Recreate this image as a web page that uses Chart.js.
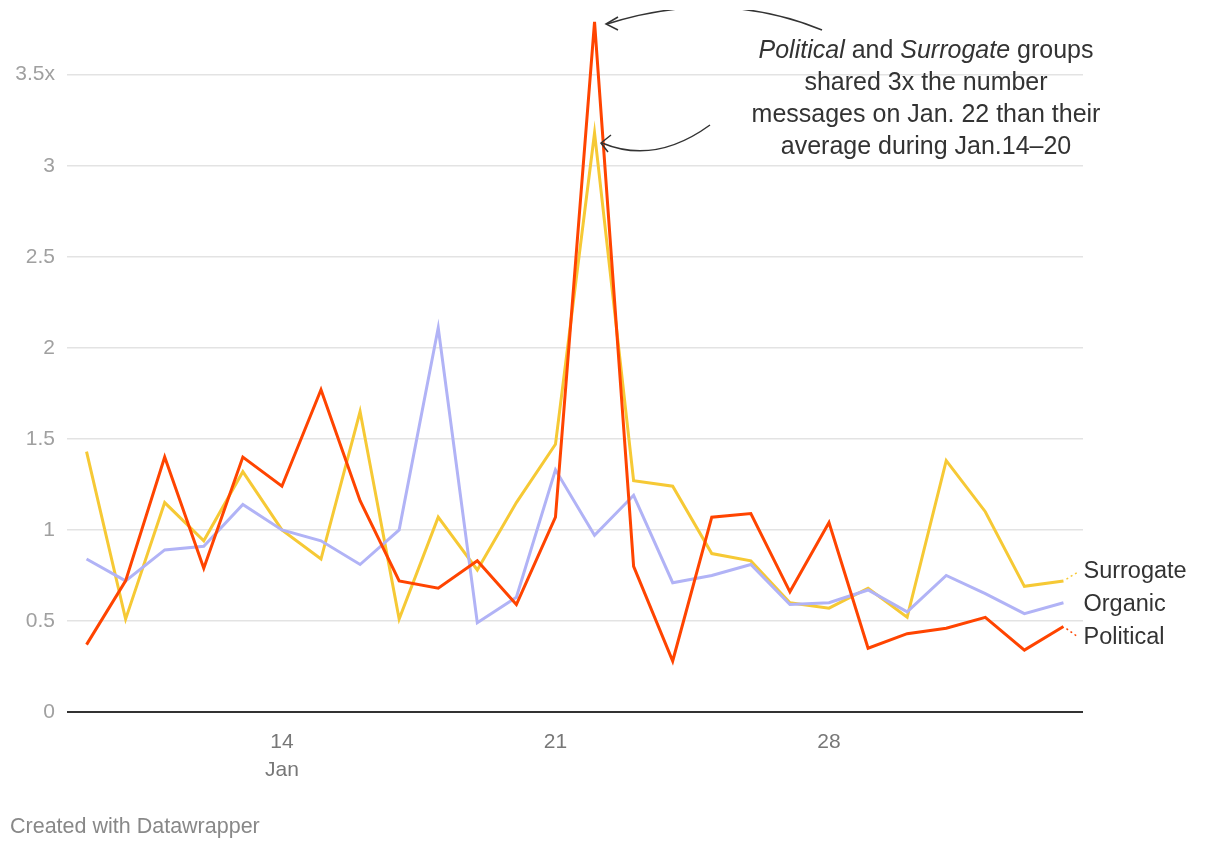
<!DOCTYPE html>
<html>
<head>
<meta charset="utf-8">
<script src="https://cdn.jsdelivr.net/npm/chart.js@4/dist/chart.umd.min.js"></script>
<style>
  body { margin: 0; background: #fff; }
  canvas { display: block; }
</style>
</head>
<body>
<canvas id="chart" width="1220" height="850"></canvas>
<script>
// Jan 9 .. Feb 3
const days = ['9','10','11','12','13','14','15','16','17','18','19','20','21','22','23','24','25','26','27','28','29','30','31','1','2','3'];

const surrogate = [1.43, 0.51, 1.15, 0.94, 1.32, 1.00, 0.84, 1.65, 0.51, 1.07, 0.78, 1.15, 1.47, 3.18, 1.27, 1.24, 0.87, 0.83, 0.60, 0.57, 0.68, 0.52, 1.38, 1.10, 0.69, 0.72];
const organic = [0.84, 0.72, 0.89, 0.91, 1.14, 1.00, 0.94, 0.81, 1.00, 2.11, 0.49, 0.63, 1.33, 0.97, 1.19, 0.71, 0.75, 0.81, 0.59, 0.60, 0.67, 0.55, 0.75, 0.65, 0.54, 0.60];
const political = [0.37, 0.72, 1.40, 0.79, 1.40, 1.24, 1.77, 1.16, 0.72, 0.68, 0.83, 0.59, 1.07, 3.79, 0.80, 0.28, 1.07, 1.09, 0.66, 1.04, 0.35, 0.43, 0.46, 0.52, 0.34, 0.47];

const yTicks = [0, 0.5, 1, 1.5, 2, 2.5, 3, 3.5];

const FONT = '"Liberation Sans", Arial, sans-serif';
const colors = { Surrogate: '#f6c935', Organic: '#b1b3f6', Political: '#ff4400' };

// series labels at the right end of the lines
const endLabels = [
    { text: 'Surrogate', value: 0.77, color: colors.Surrogate, dotted: true },
    { text: 'Organic', value: 0.59, color: colors.Organic, dotted: false },
    { text: 'Political', value: 0.41, color: colors.Political, dotted: true }
];

const extras = {
    id: 'extras',
    afterDatasetsDraw(chart) {
        const ctx = chart.ctx;
        const x = chart.scales.x, y = chart.scales.y;
        const last = days.length - 1;
        const lastX = x.getPixelForValue(last);

        ctx.save();
        ctx.font = '23.5px ' + FONT;
        ctx.textBaseline = 'middle';
        ctx.textAlign = 'left';
        const series = { Surrogate: surrogate, Organic: organic, Political: political };
        endLabels.forEach(function (l) {
            const ly = y.getPixelForValue(l.value);
            if (l.dotted) {
                const py = y.getPixelForValue(series[l.text][last]);
                ctx.strokeStyle = l.color;
                ctx.lineWidth = 1.5;
                ctx.setLineDash([2, 3]);
                ctx.beginPath();
                ctx.moveTo(lastX + 3, py + (ly - py) * 0.2);
                ctx.lineTo(lastX + 15, py + (ly - py) * 1.0);
                ctx.stroke();
                ctx.setLineDash([]);
            }
            ctx.fillStyle = '#333';
            ctx.fillText(l.text, lastX + 20, ly);
        });

        // annotation text
        const cx = 926;
        const lines = [
            [['Political', true], [' and ', false], ['Surrogate', true], [' groups', false]],
            [['shared 3x the number', false]],
            [['messages on Jan. 22 than their', false]],
            [['average during Jan.14\u201320', false]]
        ];
        const size = 25;
        ctx.fillStyle = '#333';
        lines.forEach(function (parts, i) {
            let w = 0;
            parts.forEach(function (p) {
                ctx.font = (p[1] ? 'italic ' : '') + size + 'px ' + FONT;
                w += ctx.measureText(p[0]).width;
            });
            let px = cx - w / 2;
            parts.forEach(function (p) {
                ctx.font = (p[1] ? 'italic ' : '') + size + 'px ' + FONT;
                ctx.fillText(p[0], px, 51 + i * 32);
                px += ctx.measureText(p[0]).width;
            });
        });

        // arrows
        ctx.strokeStyle = '#333';
        ctx.lineWidth = 1.5;
        ctx.save();
        ctx.beginPath();
        ctx.rect(0, 10, chart.width, chart.height);
        ctx.clip();
        ctx.beginPath();
        ctx.moveTo(822, 30);
        ctx.quadraticCurveTo(720, -12, 607, 24);
        ctx.stroke();
        ctx.restore();
        ctx.beginPath();
        ctx.moveTo(618, 17); ctx.lineTo(606, 24); ctx.lineTo(618, 30);
        ctx.stroke();

        ctx.beginPath();
        ctx.moveTo(710, 125);
        ctx.quadraticCurveTo(655, 165, 602, 143);
        ctx.stroke();
        ctx.beginPath();
        ctx.moveTo(611, 135); ctx.lineTo(601, 143); ctx.lineTo(608, 152);
        ctx.stroke();

        // footer
        ctx.font = '21.5px ' + FONT;
        ctx.fillStyle = '#888';
        ctx.textAlign = 'left';
        ctx.fillText('Created with Datawrapper', 10, 827);
        ctx.restore();
    }
};

new Chart(document.getElementById('chart'), {
    type: 'line',
    data: {
        labels: days,
        datasets: [
            { label: 'Surrogate', data: surrogate, borderColor: colors.Surrogate, borderWidth: 3, pointRadius: 0, tension: 0, order: 3, clip: false },
            { label: 'Organic', data: organic, borderColor: colors.Organic, borderWidth: 3, pointRadius: 0, tension: 0, order: 2, clip: false },
            { label: 'Political', data: political, borderColor: colors.Political, borderWidth: 3, pointRadius: 0, tension: 0, order: 1, clip: false }
        ]
    },
    options: {
        responsive: false,
        animation: false,
        layout: { padding: { top: 0, right: 137, left: 0, bottom: 0 } },
        plugins: {
            legend: { display: false },
            tooltip: { enabled: false }
        },
        scales: {
            x: {
                offset: true,
                grid: { display: false, drawTicks: false },
                border: { display: false },
                afterFit: function (axis) { axis.height = 138; },
                ticks: {
                    autoSkip: false,
                    maxRotation: 0,
                    padding: 16,
                    color: '#777',
                    font: { family: FONT, size: 21, lineHeight: 1.33 },
                    callback: function (v) {
                        const d = days[v];
                        if (d === '14') return ['14', 'Jan'];
                        if (d === '21' || d === '28') return d;
                        return '';
                    }
                }
            },
            y: {
                min: 0,
                max: 3.775,
                afterBuildTicks: function (axis) { axis.ticks = yTicks.map(function (v) { return { value: v }; }); },
                afterFit: function (axis) { axis.width = 67; },
                border: { display: false },
                grid: {
                    drawTicks: false,
                    color: function (c) { return c.tick && c.tick.value === 0 ? '#333' : '#e3e3e3'; },
                    lineWidth: function (c) { return c.tick && c.tick.value === 0 ? 2 : 1.5; }
                },
                ticks: {
                    padding: 12,
                    color: '#a0a0a0',
                    font: { family: FONT, size: 21 },
                    callback: function (v) { return v === 3.5 ? '3.5x' : v; }
                }
            }
        }
    },
    plugins: [extras]
});
</script>
</body>
</html>
